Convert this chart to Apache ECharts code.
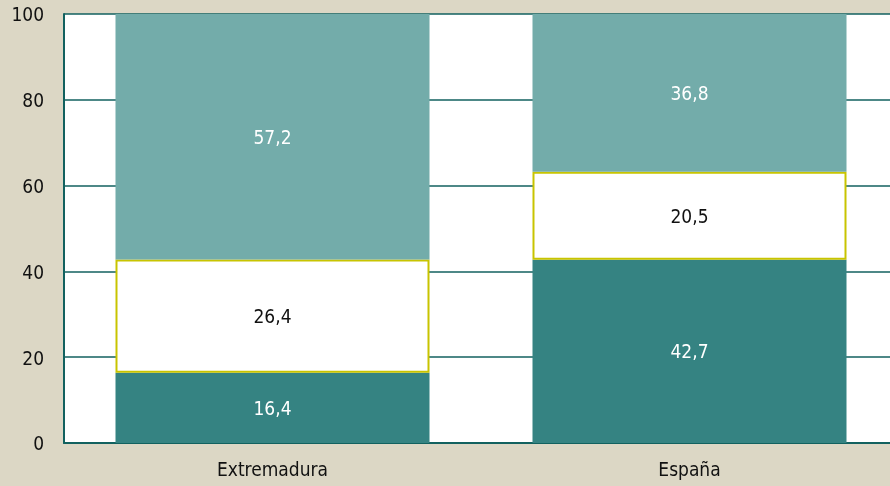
<!DOCTYPE html>
<html><head><meta charset="utf-8">
<script src="https://cdn.jsdelivr.net/npm/echarts@6/dist/echarts.min.js"></script>
<style>html,body{margin:0;padding:0;background:#DCD7C5;overflow:hidden;}#c{width:898px;height:486px;}</style>
</head><body><div id="c"></div>
<script>
const categories = ['Extremadura', 'España'];
const bottomValues = [16.4, 42.7];
const middleValues = [26.4, 20.5];
const topValues = [57.2, 36.8];
const yTicks = {min: 0, max: 100, interval: 20};

const fmt = p => String(p.value).replace('.', ',');
const font = '"DejaVu Sans Condensed", "DejaVu Sans"';
const chart = echarts.init(document.getElementById('c'), null, {renderer: 'canvas'});
const mk = (name, data, color, labelColor, border) => ({
  name, type: 'bar', stack: 's', data, barWidth: '75.3%',
  itemStyle: Object.assign({color: color}, border ? {borderColor: '#C8C400', borderWidth: 2} : {}),
  label: {show: true, position: 'inside', formatter: fmt, color: labelColor, fontFamily: font, fontSize: 19, offset: [0, 2]}
});
chart.setOption({
  backgroundColor: '#DCD7C5',
  animation: false,
  grid: {left: 64, right: 0, top: 14, bottom: 43, containLabel: false,
         show: true, backgroundColor: '#ffffff', borderWidth: 0},
  xAxis: {type: 'category', data: categories,
    axisLine: {show: true, lineStyle: {color: '#12615F', width: 2}},
    axisTick: {show: false},
    axisLabel: {color: '#111', fontFamily: font, fontSize: 19, margin: 19}},
  yAxis: {type: 'value', min: yTicks.min, max: yTicks.max, interval: yTicks.interval,
    axisLine: {show: true, lineStyle: {color: '#12615F', width: 2}},
    axisTick: {show: false},
    splitLine: {show: true, lineStyle: {color: '#12615F', width: 1.5}},
    axisLabel: {color: '#111', fontFamily: font, fontSize: 19, margin: 20,
      formatter: v => '{a|' + v + '}',
      rich: {a: {fontFamily: font, fontSize: 19, color: '#111', padding: [5, 0, 0, 0]}}}},
  series: [
    mk('a', bottomValues, '#358382', '#ffffff', false),
    mk('b', middleValues, '#ffffff', '#111111', true),
    mk('c', topValues, '#73ACAA', '#ffffff', false)
  ]
});
</script></body></html>
